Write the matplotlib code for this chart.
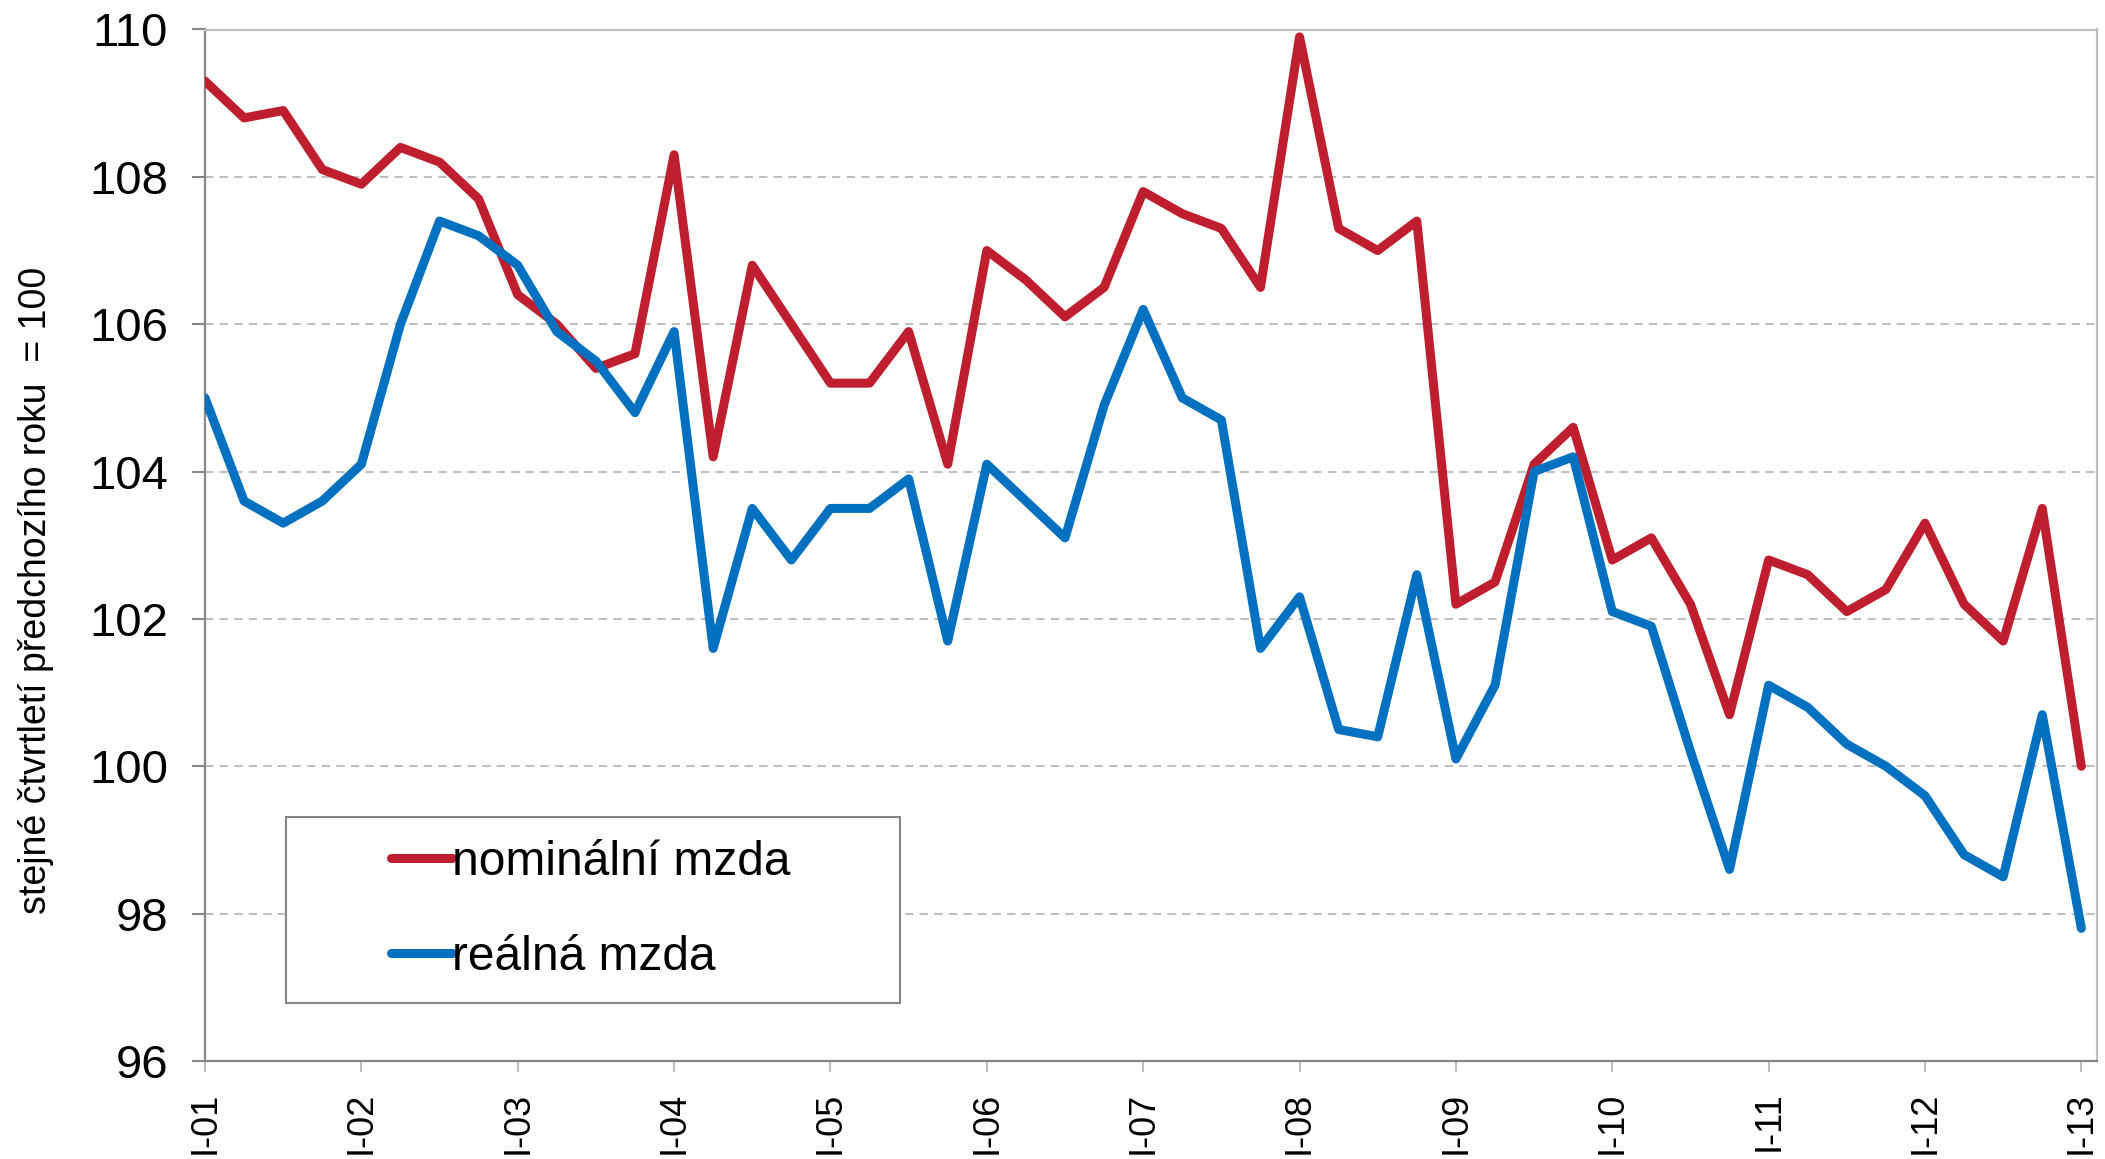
import numpy as np
import matplotlib
matplotlib.use('Agg')
import matplotlib.pyplot as plt
from matplotlib.patches import Rectangle

plt.rcParams['font.family'] = ['Liberation Sans', 'DejaVu Sans']

# quarterly values, I-01 .. I-13
nominal = [109.3, 108.8, 108.9, 108.1, 107.9, 108.4, 108.2, 107.7,
           106.4, 106.0, 105.4, 105.6, 108.3, 104.2, 106.8, 106.0,
           105.2, 105.2, 105.9, 104.1, 107.0, 106.6, 106.1, 106.5,
           107.8, 107.5, 107.3, 106.5, 109.9, 107.3, 107.0, 107.4,
           102.2, 102.5, 104.1, 104.6, 102.8, 103.1, 102.2, 100.7,
           102.8, 102.6, 102.1, 102.4, 103.3, 102.2, 101.7, 103.5,
           100.0]
real = [105.0, 103.6, 103.3, 103.6, 104.1, 106.0, 107.4, 107.2,
        106.8, 105.9, 105.5, 104.8, 105.9, 101.6, 103.5, 102.8,
        103.5, 103.5, 103.9, 101.7, 104.1, 103.6, 103.1, 104.9,
        106.2, 105.0, 104.7, 101.6, 102.3, 100.5, 100.4, 102.6,
        100.1, 101.1, 104.0, 104.2, 102.1, 101.9, 100.2, 98.6,
        101.1, 100.8, 100.3, 100.0, 99.6, 98.8, 98.5, 100.7,
        97.8]
years = ['01', '02', '03', '04', '05', '06', '07', '08', '09', '10', '11', '12', '13']
xlabels = ['I-' + y for y in years]
series_names = ['nominální mzda', 'reálná mzda']
ylabel_text = 'stejné čtvrtletí předchozího roku  = 100'

red = '#BE1E2D'
blue = '#0070C0'

fig = plt.figure(figsize=(21.05, 11.59), dpi=100)
ax = fig.add_axes([205/2105, 1 - 1061/1159, 1892/2105, 1031.5/1159])

x = np.arange(len(nominal))
ax.plot(x, nominal, color=red, lw=6.5, solid_joinstyle='round', solid_capstyle='round',
        label=series_names[0], zorder=3)
ax.plot(x, real, color=blue, lw=6.5, solid_joinstyle='round', solid_capstyle='round',
        label=series_names[1], zorder=3)

ax.set_xlim(0, 48.4)
ax.set_ylim(96, 110)
ax.set_yticks(np.arange(96, 111, 2))
ax.set_xticks(np.arange(0, len(nominal), 4))
ax.set_xticklabels(xlabels, rotation=90)

for g in np.arange(98, 110, 2):
    ax.axhline(g, color='#BFBFBF', lw=1.5, ls=(0, (4, 3)), zorder=1)

for s in ['left', 'bottom']:
    ax.spines[s].set_color('#868686')
    ax.spines[s].set_linewidth(1.6)
for s in ['top', 'right']:
    ax.spines[s].set_color('#BFBFBF')
    ax.spines[s].set_linewidth(1.6)

ax.tick_params(axis='y', direction='out', length=9.5, width=1.5, color='#868686',
               labelsize=34, pad=17)
ax.tick_params(axis='x', direction='out', length=8, width=1.5, color='#BFBFBF',
               labelsize=26, pad=14)

# legend box
ax.add_patch(Rectangle((0.0428, 0.0567), 0.3245, 0.1794, transform=ax.transAxes,
                       facecolor='white', edgecolor='#868686', lw=1.5, zorder=4))
leg = ax.legend(loc='center left', bbox_to_anchor=(0.0983, 0.1464), frameon=False,
                fontsize=34.5, handlelength=1.28, handletextpad=0.0, borderpad=0,
                borderaxespad=0, labelspacing=1.05)
leg.set_zorder(5)

fig.text(36/2105, 1 - 590/1159, ylabel_text, rotation=90, ha='center', va='center',
         fontsize=27)

fig.savefig('out.png', dpi=100)
